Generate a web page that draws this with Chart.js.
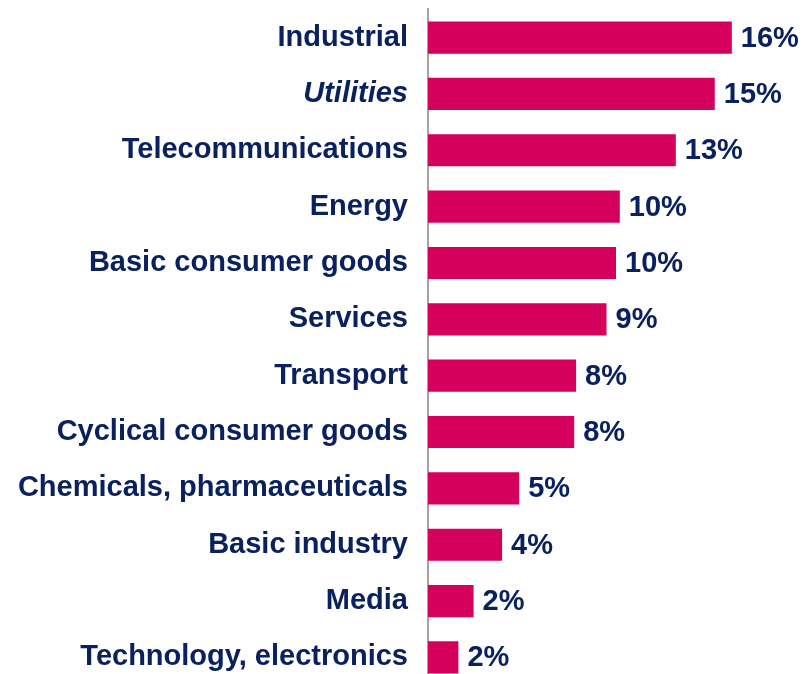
<!DOCTYPE html>
<html>
<head>
<meta charset="utf-8">
<script src="https://cdn.jsdelivr.net/npm/chart.js@4.4.0/dist/chart.umd.min.js"></script>
<style>
  html, body { margin: 0; padding: 0; background: #fff; overflow: hidden; }
  #wrap { width: 804px; height: 751px; position: relative; top: -28px; }
</style>
</head>
<body>
<div id="wrap"><canvas id="sectorChart"></canvas></div>
<script>
// sectors, top to bottom
const sectors = ['Industrial', 'Utilities', 'Telecommunications', 'Energy', 'Basic consumer goods',
    'Services', 'Transport', 'Cyclical consumer goods', 'Chemicals, pharmaceuticals',
    'Basic industry', 'Media', 'Technology, electronics'];
// share in %
const shares = [16.0, 15.1, 13.05, 10.1, 9.9, 9.4, 7.8, 7.7, 4.8, 3.9, 2.4, 1.6];
// labels printed next to the bars
const shareLabels = ['16%', '15%', '13%', '10%', '10%', '9%', '8%', '8%', '5%', '4%', '2%', '2%'];

const navy = '#0a2160';
const magenta = '#d5005c';

// draws the % text at the end of each bar
const barLabels = {
    id: 'barLabels',
    afterDatasetsDraw(chart) {
        const ctx = chart.ctx;
        const meta = chart.getDatasetMeta(0);
        ctx.save();
        ctx.font = 'bold 29px "Liberation Sans", Arial, sans-serif';
        ctx.fillStyle = navy;
        ctx.textAlign = 'left';
        ctx.textBaseline = 'middle';
        meta.data.forEach((bar, i) => {
            ctx.fillText(shareLabels[i], bar.x + 9, bar.y + 1);
        });
        ctx.restore();
    }
};

function renderChart() {
    const ctx = document.querySelector('#sectorChart').getContext('2d');
    new Chart(ctx, {
        type: 'bar',
        data: {
            labels: sectors,
            datasets: [{
                data: shares,
                backgroundColor: magenta,
                borderWidth: 0,
                barPercentage: 0.57,
                categoryPercentage: 1.0
            }]
        },
        options: {
            indexAxis: 'y',
            responsive: true,
            maintainAspectRatio: false,
            animation: false,
            layout: { padding: 0 },
            scales: {
                x: {
                    display: false,
                    min: 0,
                    max: 19.8
                },
                y: {
                    grid: { display: false, drawTicks: false },
                    border: { display: true, color: '#aaa19b', width: 2 },
                    afterFit(scale) { scale.width = 428; },
                    ticks: {
                        padding: 20,
                        color: navy,
                        font: function(context) {
                            return {
                                family: '"Liberation Sans", Arial, sans-serif',
                                size: 29,
                                weight: 'bold',
                                style: context.index === 1 ? 'italic' : 'normal'
                            };
                        }
                    }
                }
            },
            plugins: {
                legend: { display: false },
                tooltip: { enabled: false }
            }
        },
        plugins: [barLabels]
    });
}

document.addEventListener('DOMContentLoaded', renderChart);
</script>
</body>
</html>
